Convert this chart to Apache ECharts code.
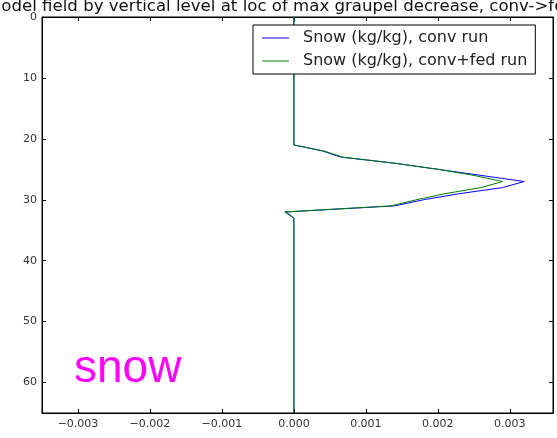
<!DOCTYPE html>
<html>
<head>
<meta charset="utf-8">
<script src="https://cdn.jsdelivr.net/npm/echarts@6/dist/echarts.min.js"></script>
<style>
html,body{margin:0;padding:0;background:#fff;}
#chart{width:557px;height:438px;}
</style>
</head>
<body>
<div id="chart"></div>
<script>
const titleText = "Model field by vertical level at loc of max graupel decrease, conv->fed run";
const seriesNames = ["Snow (kg/kg), conv run", "Snow (kg/kg), conv+fed run"];
const levels =      [0, 21, 22,      23,      24,     25,     26,      27,     28,     29,      30,     31,      32,       33, 65];
const snowConv =    [0, 0,  0.0004,  0.00065, 0.0014, 0.002,  0.0026,  0.0032, 0.0029, 0.0023,  0.0018, 0.0014,  -0.00011, 0,  0];
const snowConvFed = [0, 0,  0.00042, 0.00068, 0.0014, 0.002,  0.0025,  0.0029, 0.0026, 0.0021,  0.0017, 0.00135, -0.00013, 0,  0];
const xTicks = [-0.003, -0.002, -0.001, 0, 0.001, 0.002, 0.003];
const yTicks = [0, 10, 20, 30, 40, 50, 60];
const panelLabel = "snow";

const fmtX = v => (v < 0 ? "\u2212" : "") + Math.abs(v).toFixed(3);
const pairs = vals => vals.map((v, i) => [v, levels[i]]);

const chart = echarts.init(document.getElementById('chart'));
const xBase = {
  type: 'value', min: -0.0035, max: 0.0036,
  splitLine: {show: false},
  axisLine: {show: true, onZero: false, lineStyle: {color: '#000', width: 1}},
  axisTick: {show: true, inside: true, length: 4, customValues: xTicks, lineStyle: {color: '#000'}},
};
const yBase = {
  type: 'value', min: 0, max: 65, inverse: true,
  splitLine: {show: false},
  axisLine: {show: true, onZero: false, lineStyle: {color: '#000', width: 1}},
  axisTick: {show: true, inside: true, length: 4, customValues: yTicks, lineStyle: {color: '#000'}},
};
chart.setOption({
  animation: false,
  backgroundColor: '#fff',
  grid: {left: 42, right: 4, top: 17, bottom: 25, show: true, borderColor: '#000', borderWidth: 1},
  xAxis: [
    Object.assign({}, xBase, {position: 'bottom',
      axisLabel: {show: true, customValues: xTicks, formatter: fmtX, fontFamily: 'DejaVu Sans', fontSize: 11, color: '#333', margin: 6}}),
    Object.assign({}, xBase, {position: 'top', axisLabel: {show: false}})
  ],
  yAxis: [
    Object.assign({}, yBase, {position: 'left',
      axisLabel: {show: true, customValues: yTicks, fontFamily: 'DejaVu Sans', fontSize: 11, color: '#333', margin: 5}}),
    Object.assign({}, yBase, {position: 'right', axisLabel: {show: false}})
  ],
  legend: {
    orient: 'vertical', left: 253, top: 25,
    padding: [5, 8, 5, 9], itemGap: 7,
    itemWidth: 27, itemHeight: 1, icon: 'rect',
    backgroundColor: '#fff', borderColor: '#000', borderWidth: 1, borderRadius: 0,
    textStyle: {fontFamily: 'DejaVu Sans', fontSize: 16, color: '#222', padding: [0, 0, 0, 9]},
    data: seriesNames
  },
  graphic: [
    {type: 'text', left: -13, top: -2, z: 100,
     style: {text: titleText, font: '16.6px "DejaVu Sans"', fill: '#111'}},
    {type: 'text', left: 74, top: 346, z: 100,
     style: {text: panelLabel, font: '46px "Liberation Sans"', fill: '#ff00ff'}}
  ],
  series: [
    {name: seriesNames[0], type: 'line', data: pairs(snowConv), showSymbol: false, symbol: 'none',
     lineStyle: {color: '#0000ff', width: 1}, itemStyle: {color: '#0000ff'}, z: 2},
    {name: seriesNames[1], type: 'line', data: pairs(snowConvFed), showSymbol: false, symbol: 'none',
     lineStyle: {color: '#008000', width: 1}, itemStyle: {color: '#008000'}, z: 3}
  ]
});
</script>
</body>
</html>
